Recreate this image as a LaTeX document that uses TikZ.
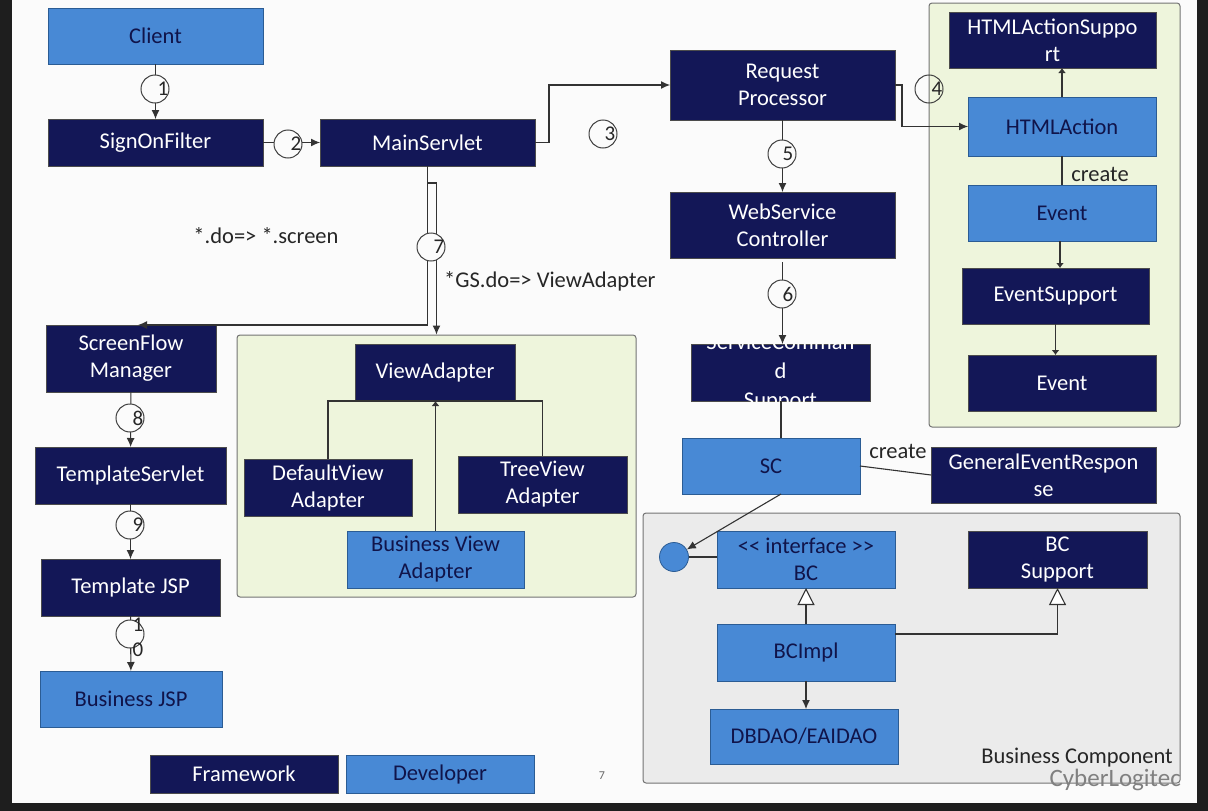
\documentclass[tikz,border=0pt]{standalone}
\usepackage{fontspec}
\setmainfont{Carlito}
\usetikzlibrary{arrows.meta,calc}
\definecolor{fwc}{HTML}{131757}
\definecolor{devc}{HTML}{4889D5}
\definecolor{devb}{HTML}{2B5C94}
\definecolor{devt}{HTML}{10144A}
\definecolor{grnc}{HTML}{EEF5DC}
\definecolor{grayc}{HTML}{EBEBEB}
\definecolor{slide}{HTML}{FBFBFB}
\definecolor{edgec}{HTML}{1E1E1E}
\definecolor{linec}{HTML}{333333}
\newcommand{\boxnode}[7]{\node[#1, minimum width={(#5-#3)*1pt}, minimum height={(#6-#4)*1pt}] (#2) at ({(#3+#5)/2},{(#4+#6)/2}) {#7};}
\tikzset{
  fw/.style={draw=black!70, line width=0.8pt, fill=fwc, text=white, align=center, inner sep=0pt, outer sep=0pt},
  dev/.style={draw=devb, line width=0.8pt, fill=devc, text=devt, align=center, inner sep=0pt, outer sep=0pt},
  grp/.style={draw=black!55, line width=1pt, rounded corners=3pt, inner sep=0pt},
  conn/.style={draw=linec, line width=1.1pt},
  arr/.style={conn, -{Latex[length=9pt,width=8pt]}},
  sarr/.style={conn, -{Latex[length=5pt,width=8pt]}},
  inh/.style={conn, -{Triangle[length=17pt,width=17pt,fill=white]}},
  numc/.style={circle, draw=black!75, line width=1pt, fill=slide, minimum size=28pt, inner sep=0pt},
  numt/.style={font=\fontsize{21}{21}\selectfont, text=black!85, inner sep=0pt, align=center},
  lbl/.style={text=black!85, inner sep=0pt}
}
\begin{document}
\begin{tikzpicture}[x=1pt, y=-1pt, font=\fontsize{22.5}{27}\selectfont]
\fill[edgec] (0,0) rectangle (1208,811);
\fill[slide] (12,0) rectangle (1197,803);
\useasboundingbox (0,0) rectangle (1208,811);
% groups
\boxnode{grp, fill=grnc}{grn1}{237}{335}{636}{597}{}
\boxnode{grp, fill=grnc}{grn2}{929}{3}{1180}{427}{}
\boxnode{grp, fill=grayc}{bcgrp}{643}{513}{1180}{783}{}
% boxes
\boxnode{dev}{client}{48}{8}{263}{64}{Client}
\boxnode{fw}{signon}{48}{119}{263}{166}{SignOnFilter}
\boxnode{fw}{main}{320}{119}{535}{166}{MainServlet}
\boxnode{fw}{rp}{670}{50}{895}{120}{Request\\Processor}
\boxnode{fw}{wsc}{670}{192}{895}{258}{WebService\\Controller}
\boxnode{fw}{scs}{691}{344}{870}{401}{}
\begin{scope}
\clip (scs.south west) rectangle (scs.north east);
\node[text=white, align=center, inner sep=0pt] (scst) at (scs.center) {ServiceComman\\[2pt]d\\[2pt]Support};
\end{scope}
\boxnode{dev}{sc}{682}{438}{860}{494}{SC}
\boxnode{fw}{ger}{931}{447}{1156}{503}{GeneralEventRespon\\se}
\boxnode{fw}{has}{949}{12}{1156}{68}{HTMLActionSuppo\\rt}
\boxnode{dev}{hta}{968}{97}{1156}{156}{HTMLAction}
\boxnode{dev}{ev1}{968}{185}{1156}{241}{Event}
\boxnode{fw}{es}{962}{268}{1149}{324}{EventSupport}
\boxnode{fw}{ev2}{968}{355}{1156}{411}{Event}
\boxnode{fw}{sfm}{46}{325}{216}{392}{ScreenFlow\\Manager}
\boxnode{fw}{tsv}{35}{447}{226}{504}{TemplateServlet}
\boxnode{fw}{tjsp}{41}{559}{220}{616}{Template JSP}
\boxnode{dev}{bjsp}{40}{671}{222}{727}{Business JSP}
\boxnode{fw}{va}{355}{344}{515}{401}{ViewAdapter}
\boxnode{fw}{dva}{244}{459}{412}{516}{DefaultView\\Adapter}
\boxnode{fw}{tva}{458}{456}{627}{513}{TreeView\\Adapter}
\boxnode{dev}{bva}{347}{531}{524}{588}{Business View\\Adapter}
\boxnode{dev}{bc}{717}{531}{895}{588}{<{}< interface >{}>\\BC}
\boxnode{fw}{bcs}{968}{531}{1147}{588}{BC\\Support}
\boxnode{dev}{bcimpl}{717}{624}{895}{681}{BCImpl}
\boxnode{dev}{dao}{710}{709}{898}{764}{DBDAO/EAIDAO}
\boxnode{fw}{lfw}{150}{755}{338}{793}{Framework}
\boxnode{dev}{ldev}{346}{755}{534}{793}{Developer}
\node[circle, fill=devc, draw=devb, line width=0.8pt, minimum size=29pt, inner sep=0pt] (ifc) at (674,557) {};
% connectors
\draw[arr] (client) -- (signon);
\draw[arr] (signon) -- (main);
\draw[arr] (main.east) -- ++(14,0) |- (rp.west);
\draw[arr] (rp.east) -- ++(7,0) |- (hta.west);
\draw[arr] (rp) -- (wsc);
\draw[arr] ($(wsc.south)+(0,4)$) -- (wsc.south |- scs.north);
\draw[conn, line width=2pt] (scs.south) -- (scs.south |- sc.north);
\draw[conn] (sc.east) -- (ger.west);
\draw[arr] ([xshift=10pt]sc.south) -- (ifc);
\draw[conn] (ifc) -- (ifc -| bc.west);
\draw[inh] (bcimpl) -- (bc);
\draw[inh] ($(bcimpl.north east)+(0,10)$) -| (bcs.south);
\draw[arr] (bcimpl.south) -- (bcimpl.south |- dao.north);
\draw[sarr] (hta.north) -- (hta.north |- has.south);
\draw[conn] (hta.south) -- (hta.south |- ev1.north);
\draw[sarr] ([xshift=-2pt]ev1.south) -- ([xshift=-2pt]ev1.south |- es.north);
\draw[sarr] (es.south) -- (es.south |- ev2.north);
\draw[arr] (main.south) |- ([xshift=7pt]sfm.north);
\coordinate (t7) at ($(main.south)+(9,17)$);
\draw[arr] ($(main.south)+(0,17)$) -- (t7) -- (t7 |- grn1.north);
\draw[arr] (sfm) -- (tsv);
\draw[arr] (tsv) -- (tjsp);
\draw[arr] (tjsp) -- (bjsp);
\draw[conn] (dva.north) |- (tva.north |- va.south) -- (tva.north);
\draw[sarr] (bva.north) -- (bva.north |- va.south);
% numbered circles
\node[numc] (c1) at (155,89) {};   \node[numt] (n1) at ([xshift=8pt]c1.center) {1};
\node[numc] (c2) at (288,144) {};  \node[numt] (n2) at ([xshift=8pt]c2.center) {2};
\node[numc] (c3) at (603,134) {};  \node[numt] (n3) at ([xshift=7pt]c3.center) {3};
\node[numc, fill=none] (c4) at (929,89) {};  \node[numt] (n4) at ([xshift=8pt]c4.center) {4};
\node[numc] (c5) at (782,154) {};  \node[numt] (n5) at ([xshift=6pt]c5.center) {5};
\node[numc] (c6) at (782,294) {};  \node[numt] (n6) at ([xshift=6pt]c6.center) {6};
\node[numc] (c7) at (431,247) {};  \node[numt] (n7) at ([xshift=8pt]c7.center) {7};
\node[numc] (c8) at (130,418) {};  \node[numt] (n8) at ([xshift=8pt]c8.center) {8};
\node[numc] (c9) at (130,525) {};  \node[numt] (n9) at ([xshift=8pt]c9.center) {9};
\node[numc] (c10) at (130,634) {}; \node[numt] (n10) at ([xshift=8pt,yshift=-3pt]c10.center) {1\\[4pt]0};
% labels
\node[lbl] (l1) at (266,236) {*.do=> *.screen};
\node[lbl, anchor=west] (l2) at (444,281) {*GS.do=> ViewAdapter};
\node[lbl] (l3) at (1100,174) {create};
\node[lbl] (l4) at (898,451) {create};
\node[lbl, anchor=east] (l5) at (1173,758) {Business Component};
\node[text=black!50, font=\fontsize{25}{28}\selectfont, anchor=east, inner sep=0pt] (l6) at (1181,780) {CyberLogitec};
\node[text=black!60, font=\fontsize{12}{14}\selectfont, inner sep=0pt] (l7) at (602,776) {7};
\end{tikzpicture}
\end{document}
